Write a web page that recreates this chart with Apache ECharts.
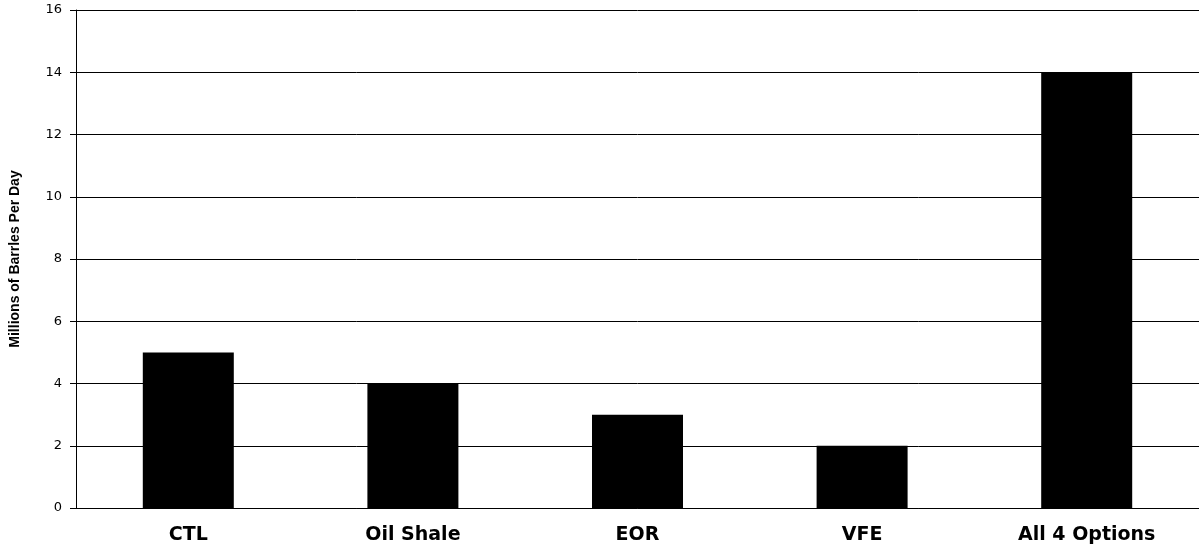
<!DOCTYPE html>
<html><head><meta charset="utf-8">
<script src="https://cdn.jsdelivr.net/npm/echarts@6/dist/echarts.min.js"></script>
<style>html,body{margin:0;padding:0;background:#fff}#c{width:1199px;height:546px}</style>
</head><body><div id="c"></div>
<script>
var categories = ["CTL", "Oil Shale", "EOR", "VFE", "All 4 Options"];
var values = [5, 4, 3, 2, 14];
var yTicks = [0, 2, 4, 6, 8, 10, 12, 14, 16];
var yName = "Millions of Barrles Per Day";

var chart = echarts.init(document.getElementById('c'), null, {renderer: 'canvas'});
chart.setOption({
  animation: false,
  grid: {left: 76, right: 0, top: 10, bottom: 38, containLabel: false, outerBoundsMode: 'none'},
  xAxis: {
    type: 'category', data: categories,
    axisLine: {lineStyle: {color: '#000', width: 1}},
    axisTick: {show: false},
    axisLabel: {color: '#000', fontFamily: 'DejaVu Sans, sans-serif', fontWeight: 'bold', fontSize: 19, margin: 18}
  },
  yAxis: {
    type: 'value', min: yTicks[0], max: yTicks[yTicks.length - 1], interval: 2,
    name: yName, nameLocation: 'middle', nameGap: 54, nameRotate: 90,
    nameTextStyle: {color: '#000', fontFamily: 'Liberation Sans, Arial, sans-serif', fontWeight: 'bold', fontSize: 14},
    axisLine: {show: true, lineStyle: {color: '#000', width: 1}},
    axisTick: {show: true, length: 6, lineStyle: {color: '#000'}},
    axisLabel: {color: '#000', fontFamily: 'DejaVu Sans, sans-serif', fontSize: 13, margin: 14, padding: [3, 0, 0, 0]},
    splitLine: {show: true, lineStyle: {color: '#000', width: 1}}
  },
  series: [{
    type: 'bar', data: values, barWidth: 91,
    itemStyle: {color: '#000'}
  }]
});
</script></body></html>
